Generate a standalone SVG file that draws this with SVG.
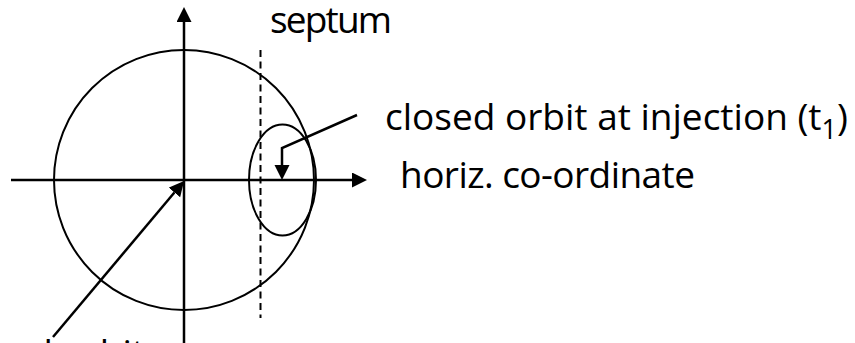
<svg xmlns="http://www.w3.org/2000/svg" width="855" height="343" viewBox="0 0 855 343">
<style>
.ln{fill:none;stroke:#000;stroke-width:2.5}
.sh{fill:none;stroke:#000;stroke-width:2}
.tx{font-family:"Open Sans","Liberation Sans",sans-serif;font-size:37px;fill:#000}
</style>
<defs>
<marker id="ah" markerUnits="userSpaceOnUse" markerWidth="16" markerHeight="16" refX="0" refY="7.5" orient="auto" viewBox="0 0 16 16">
<path d="M0,0 L15,7.5 L0,15 z" fill="#000"/>
</marker>
</defs>
<rect width="855" height="343" fill="#fff"/>
<g id="phase-circle"><circle class="sh" cx="184" cy="180" r="130"/></g>
<g id="injected-ellipse"><ellipse class="sh" cx="282.5" cy="180" rx="33.5" ry="55.5"/></g>
<g id="septum"><line x1="260.5" y1="50" x2="260.5" y2="318" stroke="#000" stroke-width="2" stroke-dasharray="7,4.5"/>
<text class="tx" x="270" y="33" textLength="122">septum</text></g>
<g id="label-closed-orbit-injection"><text class="tx" x="385" y="130">closed orbit at injection (t<tspan font-size="27" dy="9">1</tspan><tspan dy="-9">)</tspan></text></g>
<g id="label-horiz"><text class="tx" x="400" y="188" textLength="295">horiz. co-ordinate</text></g>
<g id="label-closed-orbit"><text class="tx" x="145" y="366" text-anchor="end">closed orbit</text></g>
<g id="connectors">
<line class="ln" x1="184" y1="343" x2="184" y2="22" marker-end="url(#ah)"/>
<line class="ln" x1="11" y1="180" x2="352" y2="180" marker-end="url(#ah)"/>
<line class="ln" x1="53" y1="337" x2="174.4" y2="192.5" marker-end="url(#ah)"/>
<polyline class="ln" points="357,115 282,148 282,165" marker-end="url(#ah)"/>
</g>
</svg>
